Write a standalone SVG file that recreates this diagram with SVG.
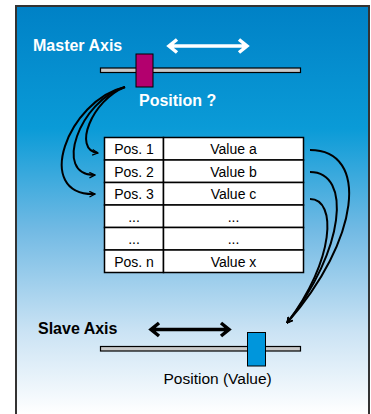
<svg xmlns="http://www.w3.org/2000/svg" width="371" height="414" viewBox="0 0 371 414">
<defs>
<linearGradient id="bg" x1="0" y1="6" x2="0" y2="414" gradientUnits="userSpaceOnUse">
<stop offset="0" stop-color="#0081c6"/>
<stop offset="0.3" stop-color="#0a9bd7"/>
<stop offset="0.55" stop-color="#72bae4"/>
<stop offset="0.8" stop-color="#cbe3f4"/>
<stop offset="1" stop-color="#ffffff"/>
</linearGradient>
<marker id="ah" viewBox="0 0 10 10" refX="9" refY="5" markerWidth="7" markerHeight="7" markerUnits="userSpaceOnUse" orient="auto">
<path d="M1,1 L9,5 L1,9" fill="none" stroke="#000" stroke-width="1.8"/>
</marker>
</defs>
<style>
.lbl{font-family:"Liberation Sans",Arial,sans-serif;font-weight:bold;font-size:16px}
.cell{fill:#fff;stroke:#000;stroke-width:1.5}
.ct{font-family:"Liberation Sans",Arial,sans-serif;font-size:14px;fill:#000;text-anchor:middle}
.bar{fill:#c8c8c8;stroke:#000;stroke-width:1.2}
.con{fill:none;stroke:#000;stroke-width:2}
</style>
<rect x="16" y="6" width="353" height="420" fill="url(#bg)" stroke="#333" stroke-width="2"/>

<g id="master-axis">
<text class="lbl" x="33" y="51" fill="#fff">Master Axis</text>
<path d="M169,46 H247 M177,39.5 L169,46 L177,52.5 M239,39.5 L247,46 L239,52.5" fill="none" stroke="#fff" stroke-width="3.5" stroke-linejoin="miter"/>
<rect class="bar" x="100.5" y="68" width="200" height="4.5"/>
<rect x="136" y="54" width="17" height="33" fill="#b3006e" stroke="#000" stroke-width="1"/>
<text class="lbl" x="139" y="106" fill="#fff">Position ?</text>
</g>

<g id="table">
<rect class="cell" x="104.5" y="137.5" width="59" height="22.5"/>
<rect class="cell" x="163.5" y="137.5" width="140" height="22.5"/>
<rect class="cell" x="104.5" y="160" width="59" height="22.5"/>
<rect class="cell" x="163.5" y="160" width="140" height="22.5"/>
<rect class="cell" x="104.5" y="182.5" width="59" height="22.5"/>
<rect class="cell" x="163.5" y="182.5" width="140" height="22.5"/>
<rect class="cell" x="104.5" y="205" width="59" height="22.5"/>
<rect class="cell" x="163.5" y="205" width="140" height="22.5"/>
<rect class="cell" x="104.5" y="227.5" width="59" height="22.5"/>
<rect class="cell" x="163.5" y="227.5" width="140" height="22.5"/>
<rect class="cell" x="104.5" y="250" width="59" height="22.5"/>
<rect class="cell" x="163.5" y="250" width="140" height="22.5"/>
<text class="ct" x="134" y="154">Pos. 1</text>
<text class="ct" x="233.5" y="154">Value a</text>
<text class="ct" x="134" y="176.5">Pos. 2</text>
<text class="ct" x="233.5" y="176.5">Value b</text>
<text class="ct" x="134" y="199">Pos. 3</text>
<text class="ct" x="233.5" y="199">Value c</text>
<text class="ct" x="134" y="221.5">...</text>
<text class="ct" x="233.5" y="221.5">...</text>
<text class="ct" x="134" y="244">...</text>
<text class="ct" x="233.5" y="244">...</text>
<text class="ct" x="134" y="266.5">Pos. n</text>
<text class="ct" x="233.5" y="266.5">Value x</text>
</g>

<g id="slave-axis">
<text class="lbl" x="38" y="334" fill="#000">Slave Axis</text>
<path d="M151,329.5 H229 M159,323 L151,329.5 L159,336 M221,323 L229,329.5 L221,336" fill="none" stroke="#000" stroke-width="3.5"/>
<rect class="bar" x="100.5" y="346.5" width="200" height="4.5"/>
<rect x="247.5" y="332.5" width="18" height="33.5" fill="#0096dc" stroke="#000" stroke-width="1"/>
<text x="163.5" y="384" font-family="Liberation Sans, Arial, sans-serif" font-size="15.5" fill="#000">Position (Value)</text>
</g>

<g id="connectors">
<path class="con" d="M125,87 C92,100 72,150 98,153" marker-end="url(#ah)"/>
<path class="con" d="M125,87 C80,100 52,176 95,175" marker-end="url(#ah)"/>
<path class="con" d="M125,87 C68,100 32,196 95,194" marker-end="url(#ah)"/>
<path class="con" d="M310,150 C370,150 360,240 287,323" marker-end="url(#ah)"/>
<path class="con" d="M310,172 C352,172 345,250 287,323" marker-end="url(#ah)"/>
<path class="con" d="M310,199 C337,199 335,260 287,323" marker-end="url(#ah)"/>
</g>
</svg>
